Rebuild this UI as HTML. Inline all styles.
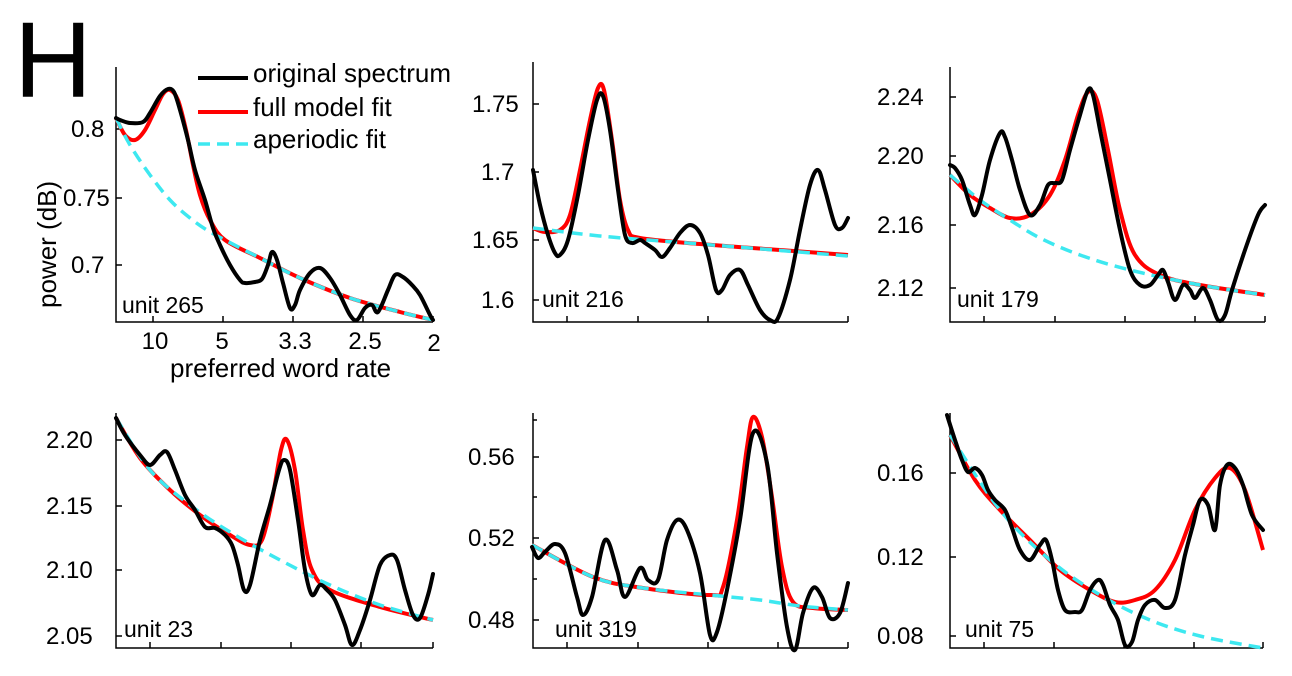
<!DOCTYPE html>
<html><head><meta charset="utf-8"><style>
html,body{margin:0;padding:0;background:#fff;}
svg{display:block;font-family:"Liberation Sans",Arial,sans-serif;}
.ax{fill:none;stroke:#000;stroke-width:1.5}
.k{fill:none;stroke:#000;stroke-width:4;stroke-linejoin:round;stroke-linecap:round}
.r{fill:none;stroke:#f00;stroke-width:4;stroke-linejoin:round}
.c{fill:none;stroke:#3de8f0;stroke-width:3.5;stroke-dasharray:12 7}
.t{font-size:24px;fill:#000}
.l{font-size:26px;fill:#000}
.u{font-size:23px;fill:#000}
</style></head><body>
<svg id="s" width="1292" height="676" viewBox="0 0 1292 676">
<text x="14" y="97" style="font-size:108px">H</text>

<!-- Panel 1 -->
<path class="ax" d="M116,67 V322 H433 M153,322v-6 M223,322v-6 M293,322v-6 M363,322v-6 M433,322v-6 M116,129h6 M116,198h6 M116,265h6"/>
<polyline class="r" points="116,118 125,135 135,140 145,130 155,110 163,94 170,90 178,100 186,130 193,165 200,195 210,220 225,240 260,258 300,278 350,298 400,312 433,320"/>
<polyline class="c" points="116,118 130,145 150,175 170,200 190,218 212,233 260,258 300,278 350,298 400,312 433,320"/>
<polyline class="k" points="116,118 120,120 130,123 143,122 150,113 160,96 168,89 174,92 180,110 188,140 195,170 205,200 213,228 220,245 230,265 240,280 245,283 255,282 262,279 268,265 272,252 277,260 283,283 290,308 295,305 300,290 310,273 320,268 330,278 340,295 350,315 357,320 365,308 372,305 378,312 388,290 395,275 403,277 412,285 420,295 430,315 433,320"/>
<text class="t" x="71" y="137">0.8</text><text class="t" x="63" y="206">0.75</text><text class="t" x="71" y="273">0.7</text>
<text class="l" transform="translate(56,308) rotate(-90)">power (dB)</text>
<text class="t" x="155" y="349" text-anchor="middle">10</text><text class="t" x="222" y="349" text-anchor="middle">5</text><text class="t" x="295" y="349" text-anchor="middle">3.3</text><text class="t" x="365" y="349" text-anchor="middle">2.5</text><text class="t" x="434" y="351" text-anchor="middle">2</text>
<text class="l" x="170" y="377">preferred word rate</text>
<text class="u" x="122" y="313">unit 265</text>
<line x1="198" y1="78" x2="248" y2="78" stroke="#000" stroke-width="4"/><text class="l" x="253" y="82">original spectrum</text>
<line x1="198" y1="112" x2="248" y2="112" stroke="#f00" stroke-width="4"/><text class="l" x="253" y="116">full model fit</text>
<line x1="198" y1="144" x2="248" y2="144" class="c"/><text class="l" x="253" y="148">aperiodic fit</text>

<!-- Panel 216 -->
<path class="ax" d="M533,62 V322 H848 M567,322v-6 M638,322v-6 M708,322v-6 M778,322v-6 M848,322v-6 M533,104h6 M533,172h6 M533,240h6 M533,300h6"/>
<polyline class="r" points="533,228 545,232 560,230 570,215 580,170 590,120 598,88 604,90 612,140 620,200 628,230 640,238 700,244 780,250 848,255"/>
<polyline class="c" points="533,228 600,236 700,244 848,256"/>
<polyline class="k" points="533,170 540,205 548,235 555,253 560,255 568,240 578,195 588,140 597,100 603,96 610,130 618,190 625,235 632,243 640,240 645,243 655,250 662,257 670,248 680,233 690,225 700,233 708,255 716,290 722,290 730,275 740,270 748,285 760,310 770,320 778,318 790,280 800,230 810,185 818,170 825,190 835,225 842,228 848,218"/>
<text class="t" x="472" y="112">1.75</text><text class="t" x="481" y="180">1.7</text><text class="t" x="472" y="248">1.65</text><text class="t" x="481" y="308">1.6</text>
<text class="u" x="542" y="307">unit 216</text>

<!-- Panel 179 -->
<path class="ax" d="M950,67 V322 H1265 M984,322v-6 M1055,322v-6 M1125,322v-6 M1195,322v-6 M1265,322v-6 M950,97h6 M950,156h6 M950,225h6 M950,288h6"/>
<polyline class="r" points="950,175 970,195 990,208 1010,218 1030,215 1050,195 1065,160 1078,115 1088,92 1097,100 1108,150 1120,210 1135,255 1160,275 1200,285 1265,295"/>
<polyline class="c" points="950,175 980,200 1010,220 1040,238 1080,255 1130,270 1200,285 1265,295"/>
<polyline class="k" points="950,165 955,168 962,180 970,205 975,215 982,195 990,160 1000,133 1005,137 1012,160 1020,190 1030,215 1040,205 1048,185 1055,183 1062,180 1070,150 1080,115 1088,90 1093,95 1100,130 1110,180 1120,230 1130,270 1140,285 1150,285 1158,275 1163,270 1168,282 1175,300 1183,285 1190,290 1195,298 1203,288 1210,300 1218,320 1225,315 1232,290 1245,250 1258,215 1265,205"/>
<text class="t" x="877" y="105">2.24</text><text class="t" x="877" y="164">2.20</text><text class="t" x="877" y="233">2.16</text><text class="t" x="877" y="296">2.12</text>
<text class="u" x="957" y="307">unit 179</text>

<!-- Panel 23 -->
<path class="ax" d="M116,413 V648 H433 M150,648v-6 M221,648v-6 M291,648v-6 M361,648v-6 M433,648v-6 M116,440h6 M116,506h6 M116,570h6 M116,636h6"/>
<polyline class="r" points="116,418 140,458 170,490 200,515 230,535 250,545 262,540 272,500 281,450 287,440 295,470 303,530 312,570 330,590 380,607 433,620"/>
<polyline class="c" points="116,418 150,470 190,505 230,532 280,560 330,585 380,605 433,620"/>
<polyline class="k" points="116,418 125,435 140,455 150,465 160,455 167,452 175,470 185,495 195,510 205,527 215,528 225,535 232,545 238,565 244,590 250,585 260,540 270,505 279,470 284,460 290,470 298,520 305,570 312,595 320,585 327,590 335,600 345,625 352,645 360,630 370,600 380,565 390,555 397,560 405,590 413,615 420,618 428,595 433,574"/>
<text class="t" x="46" y="448">2.20</text><text class="t" x="46" y="514">2.15</text><text class="t" x="46" y="578">2.10</text><text class="t" x="46" y="644">2.05</text>
<text class="u" x="124" y="637">unit 23</text>

<!-- Panel 319 -->
<path class="ax" d="M533,413 V648 H848 M567,648v-6 M638,648v-6 M708,648v-6 M778,648v-6 M848,648v-6 M533,457h6 M533,538h6 M533,620h6 M533,497h4 M533,579h4 M533,420h4"/>
<polyline class="r" points="532,545 593,577 643,588 710,595 723,587 737,520 747,447 753,417 762,437 772,497 782,567 793,602 813,608 848,610"/>
<polyline class="c" points="532,545 593,577 643,588 710,595 760,600 800,606 848,610"/>
<polyline class="k" points="532,547 538,558 545,552 555,544 565,553 577,597 583,615 592,597 605,540 617,570 625,597 640,568 648,580 658,580 667,540 677,520 687,530 700,573 710,635 717,632 727,590 740,520 753,433 767,463 777,553 787,627 795,650 803,613 813,588 822,597 830,618 840,613 848,583"/>
<text class="t" x="468" y="465">0.56</text><text class="t" x="468" y="546">0.52</text><text class="t" x="468" y="628">0.48</text>
<text class="u" x="555" y="637">unit 319</text>

<!-- Panel 75 -->
<path class="ax" d="M950,413 V648 H1263 M984,648v-6 M1054,648v-6 M1124,648v-6 M1194,648v-6 M1263,648v-6 M950,473h6 M950,557h6 M950,636h6"/>
<polyline class="r" points="950,435 975,480 1000,510 1030,540 1060,570 1090,590 1115,602 1135,600 1155,590 1175,560 1195,510 1215,478 1230,468 1245,490 1263,550"/>
<polyline class="c" points="950,435 1000,510 1050,560 1100,595 1150,620 1200,636 1263,648"/>
<polyline class="k" points="947,415 955,440 962,460 968,472 975,468 982,475 988,490 995,500 1005,510 1012,528 1020,550 1030,560 1040,545 1046,540 1052,560 1058,590 1065,610 1075,612 1082,610 1090,590 1098,580 1103,585 1110,605 1118,620 1125,645 1132,642 1138,620 1145,605 1155,600 1165,608 1175,600 1185,555 1193,525 1200,500 1208,505 1215,530 1220,485 1227,465 1235,468 1243,485 1252,515 1263,530"/>
<text class="t" x="877" y="481">0.16</text><text class="t" x="877" y="565">0.12</text><text class="t" x="877" y="644">0.08</text>
<text class="u" x="965" y="637">unit 75</text>
</svg>
<script>
document.querySelectorAll('polyline').forEach(function(pl){
  var p=pl.getAttribute('points').trim().split(/\s+/).map(function(s){return s.split(',').map(Number);});
  if(p.length<3)return;
  var d='M'+p[0][0]+','+p[0][1];
  for(var i=0;i<p.length-1;i++){
    var p0=p[i-1]||p[i],p1=p[i],p2=p[i+1],p3=p[i+2]||p2;
    var c1x=p1[0]+(p2[0]-p0[0])/6,c1y=p1[1]+(p2[1]-p0[1])/6;
    var c2x=p2[0]-(p3[0]-p1[0])/6,c2y=p2[1]-(p3[1]-p1[1])/6;
    d+=' C'+c1x.toFixed(1)+','+c1y.toFixed(1)+' '+c2x.toFixed(1)+','+c2y.toFixed(1)+' '+p2[0]+','+p2[1];
  }
  var path=document.createElementNS('http://www.w3.org/2000/svg','path');
  path.setAttribute('d',d);path.setAttribute('class',pl.getAttribute('class'));
  pl.parentNode.replaceChild(path,pl);
});
</script>
</body></html>
